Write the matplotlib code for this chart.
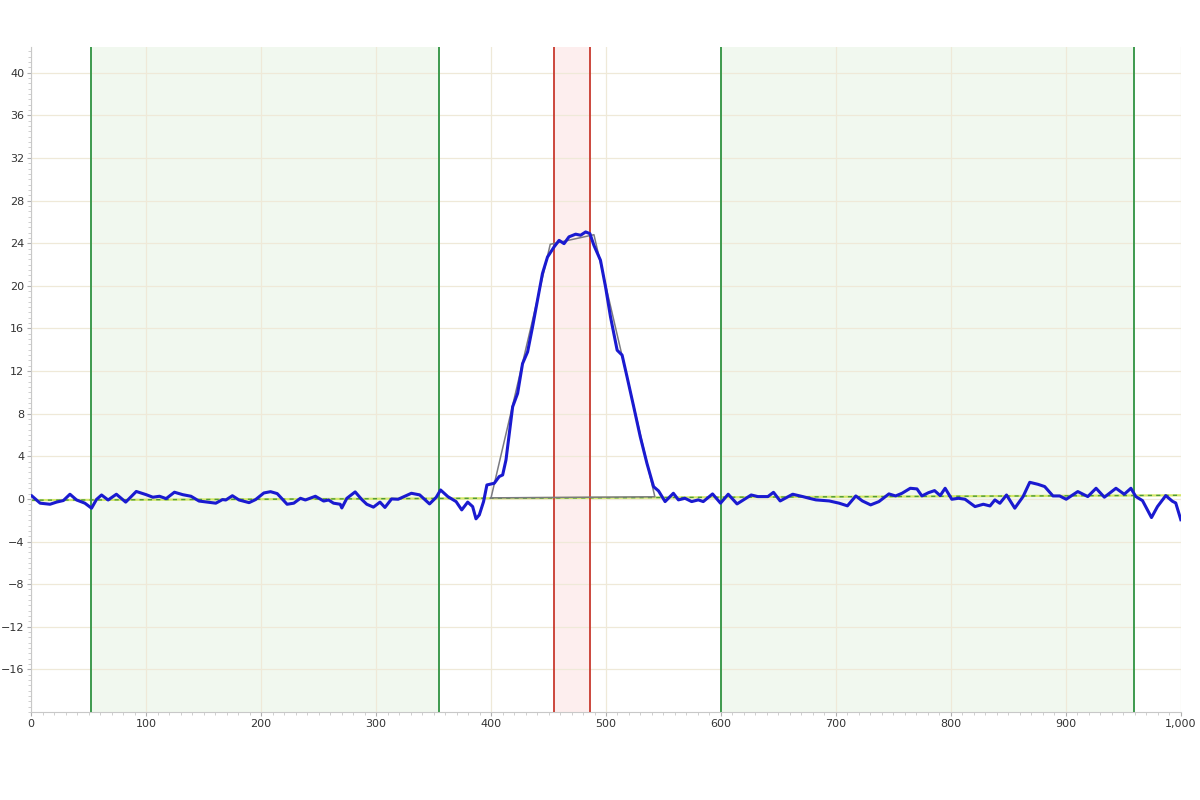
import numpy as np
import matplotlib.pyplot as plt
from matplotlib.ticker import MultipleLocator, FuncFormatter

signal_x = [0.6, 7.8, 16.4, 22, 28, 33.7, 39.5, 46.7, 52.5, 56.8, 61.2, 66.9, 74.1, 82.2,
            91.4, 100, 105.8, 111.6, 117.4, 124.6, 131.8, 139, 146, 153.4, 160.6, 166.4,
            169.3, 175, 180.8, 189.5, 195.2, 202.4, 208.2, 214, 222.6, 228.4, 234.2, 238.5,
            247.2, 254.4, 258.7, 263, 268.8, 270.2, 274.6, 281.8, 287.6, 291.9, 297.7,
            303.4, 307.7, 313.5, 319.2, 330.7, 337.9, 346.5, 352.3, 356.1, 362.4, 369.6,
            374.5, 379.7, 384, 386.9, 389.8, 393.5, 396.4, 402.8, 407.1, 410.1, 413,
            415.9, 418.8, 423.1, 427.4, 431.8, 436.1, 440.4, 444.7, 449.1, 454.8, 459.2,
            463.5, 467.8, 473.6, 477.9, 482.3, 486, 489.5, 495.2, 499.6, 503.9, 509.7,
            514, 518.3, 524.1, 529.8, 535.6, 541.4, 545.7, 551.4, 558.6, 563, 568.7,
            574.5, 580.3, 584.6, 592.7, 599.6, 606.3, 614, 626.3, 632.1, 640.8, 645.7,
            651.5, 662.4, 671.1, 676.8, 682.6, 694.2, 702.8, 710, 717.3, 723, 730.2,
            737.4, 746.1, 751.9, 757.5, 764.7, 770.5, 774.8, 780.6, 785.8, 790.7, 795,
            800.8, 806.6, 812.3, 821, 828.2, 834, 838.3, 842.6, 848.4, 855.6, 862.8,
            868.6, 875.8, 881.6, 888.8, 894.6, 900.3, 910.4, 919.1, 926.3, 933.5, 943.6,
            950.8, 956.6, 960.9, 966.7, 974.5, 979.7, 986.9, 992.7, 995.6, 1000]
signal_y = [0.28, -0.4, -0.5, -0.3, -0.15, 0.44, -0.1, -0.4, -0.87, -0.05, 0.37, -0.1, 0.44, -0.3,
            0.7, 0.4, 0.16, 0.25, 0.03, 0.63, 0.4, 0.25, -0.2, -0.3, -0.4, -0.06,
            -0.1, 0.3, -0.1, -0.35, -0.06, 0.56, 0.68, 0.5, -0.5, -0.4, 0.06, -0.1,
            0.25, -0.2, -0.1, -0.4, -0.5, -0.85, 0.06, 0.66, -0.06, -0.5, -0.77,
            -0.3, -0.8, 0.0, -0.03, 0.53, 0.38, -0.47, 0.15, 0.84, 0.22, -0.25,
            -1.03, -0.3, -0.72, -1.87, -1.5, -0.25, 1.31, 1.47, 2.1, 2.25, 3.66,
            6.15, 8.65, 9.9, 12.7, 13.8, 16.15, 18.65, 21.15, 22.7, 23.65, 24.27,
            23.96, 24.6, 24.85, 24.75, 25.06, 24.9, 23.8, 22.4, 19.9, 17.1, 13.96,
            13.5, 11.46, 8.65, 5.84, 3.34, 1.15, 0.75, -0.25, 0.53, -0.09, 0.06,
            -0.25, -0.09, -0.25, 0.47, -0.4, 0.44, -0.47, 0.37, 0.22, 0.22, 0.62,
            -0.19, 0.44, 0.22, 0.06, -0.09, -0.19, -0.4, -0.65, 0.28, -0.19, -0.56,
            -0.25, 0.47, 0.28, 0.53, 1.0, 0.94, 0.28, 0.59, 0.78, 0.31, 1.0,
            -0.03, 0.06, -0.03, -0.72, -0.5, -0.66, -0.09, -0.41, 0.37, -0.87, 0.22,
            1.56, 1.37, 1.16, 0.28, 0.28, -0.03, 0.69, 0.22, 1.0, 0.16, 1.0,
            0.44, 1.0, 0.22, -0.16, -1.75, -0.72, 0.31, -0.22, -0.38, -1.95]

# fitted trapezoid
fit_x = [400, 451.5, 489.5, 542.5, 400]
fit_y = [0.1, 23.9, 24.8, 0.2, 0.1]

# baseline
base_x = [0, 1000]
base_y = [-0.12, 0.34]

# regions
green_regions = [(52, 355), (600, 959)]
red_region = (455, 486)

fig = plt.figure(figsize=(12, 8), dpi=100)
ax = fig.add_axes([0.026, 0.11, 0.958, 0.831])

for lo, hi in green_regions:
    ax.axvspan(lo, hi, color='#f1f8ef', zorder=0, lw=0)
    ax.axvline(lo, color='#3e9a4e', lw=1.4, zorder=3)
    ax.axvline(hi, color='#3e9a4e', lw=1.4, zorder=3)
ax.axvspan(red_region[0], red_region[1], color='#fdeeee', zorder=0, lw=0)
ax.axvline(red_region[0], color='#c8392e', lw=1.3, zorder=3)
ax.axvline(red_region[1], color='#c8392e', lw=1.3, zorder=3)

ax.plot(base_x, base_y, color='#d4e86a', lw=1.6, zorder=2)
ax.plot(base_x, base_y, color='#4e9a3a', lw=1.0, ls=(0, (3, 3)), zorder=2)
ax.plot(fit_x, fit_y, color='#7a7a80', lw=1.1, zorder=4)
ax.plot(signal_x, signal_y, color='#1a1ad0', lw=2.2, zorder=5, solid_joinstyle='round')

ax.set_xlim(0, 1000)
ax.set_ylim(-20, 42.4)
ax.set_xticks(np.arange(0, 1001, 100))
ax.set_yticks(np.arange(-16, 41, 4))
ax.xaxis.set_minor_locator(MultipleLocator(10))
ax.yaxis.set_minor_locator(MultipleLocator(0.5))
ax.xaxis.set_major_formatter(FuncFormatter(lambda v, p: f'{int(v):,}'))

ax.grid(True, which='major', color='#efe9d8', lw=0.9, zorder=1)
ax.set_axisbelow(True)
for s in ['top', 'right']:
    ax.spines[s].set_visible(False)
for s in ['left', 'bottom']:
    ax.spines[s].set_color('#c8c8c8')
ax.tick_params(which='major', length=3, color='#b0b0b0', labelsize=8, labelcolor='#333333', pad=2)
ax.tick_params(which='minor', length=2, color='#c8c8c8')

fig.savefig('out.png', dpi=100, facecolor='white')
